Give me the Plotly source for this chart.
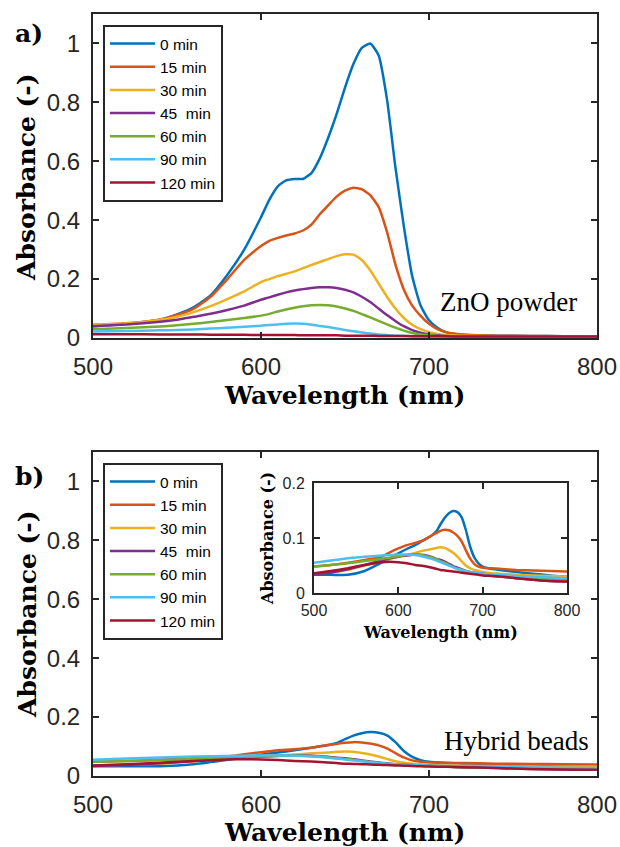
import plotly.graph_objects as go

# ---------------- data ----------------
labels = ["0 min", "15 min", "30 min", "45  min", "60 min", "90 min", "120 min"]
colors = ["#0072BD", "#D95319", "#EDB120", "#7E2F8E", "#77AC30", "#4DBEEE", "#A2142F"]

# Panel a) ZnO powder
wl_a = [500, 520, 540, 550, 560, 570, 580, 590, 600, 605, 610, 615, 620, 625, 630, 635, 640, 645,
        650, 655, 660, 665, 670, 675, 680, 685, 690, 695, 700, 705, 710, 720, 740, 760, 780, 800]
a_0 = [.040, .048, .062, .080, .105, .145, .215, .300, .410, .470, .515, .535, .540, .540, .560, .610, .680, .760,
       .850, .930, .985, 1.000, .960, .810, .580, .380, .210, .110, .060, .035, .020, .011, .008, .007, .006, .005]
a_15 = [.045, .050, .063, .078, .100, .140, .200, .265, .312, .330, .340, .348, .355, .365, .385, .420, .450, .480,
        .500, .510, .505, .485, .445, .360, .250, .165, .110, .075, .048, .030, .020, .012, .008, .007, .006, .005]
a_30 = [.045, .049, .062, .072, .088, .108, .132, .158, .190, .200, .210, .218, .226, .237, .248, .258, .268, .278,
        .284, .283, .265, .230, .185, .140, .100, .068, .045, .030, .020, .014, .010, .008, .006, .006, .005, .005]
a_45 = [.040, .046, .055, .062, .072, .082, .095, .110, .130, .138, .147, .155, .161, .166, .170, .172, .172, .170,
        .164, .155, .140, .122, .100, .078, .058, .040, .027, .018, .012, .009, .007, .006, .005, .005, .004, .004]
a_60 = [.030, .034, .039, .043, .048, .054, .061, .068, .076, .082, .090, .097, .103, .108, .111, .112, .111, .107,
        .100, .092, .081, .070, .058, .046, .035, .025, .017, .012, .009, .007, .006, .005, .005, .004, .004, .004]
a_90 = [.022, .024, .026, .027, .029, .032, .035, .038, .042, .044, .046, .048, .049, .048, .045, .041, .037, .032,
        .027, .023, .019, .015, .012, .010, .008, .007, .006, .006, .005, .005, .005, .004, .004, .004, .004, .004]
a_120 = [.013, .013, .012, .012, .012, .011, .011, .011, .010, .010, .010, .010, .010, .009, .009, .009, .009, .009,
         .008, .008, .008, .008, .007, .007, .007, .007, .006, .006, .006, .006, .006, .005, .005, .005, .005, .005]

# Panel b) Hybrid beads (also shown in inset)
wl_b = [500, 520, 540, 560, 580, 590, 600, 610, 620, 630, 640, 645, 650, 655, 660, 665, 670, 675, 680,
        685, 690, 695, 700, 710, 720, 740, 760, 780, 800]
b_0 = [.033, .033, .033, .040, .055, .063, .072, .080, .087, .096, .105, .112, .125, .137, .145, .149, .147, .138, .115,
       .085, .065, .054, .048, .044, .042, .038, .035, .032, .030]
b_15 = [.048, .051, .055, .060, .066, .074, .081, .087, .091, .096, .105, .109, .113, .115, .114, .110, .104, .094, .078,
        .063, .053, .048, .046, .045, .044, .042, .041, .040, .039]
b_30 = [.036, .038, .042, .050, .058, .062, .066, .069, .073, .077, .080, .082, .083, .082, .078, .073, .066, .058, .050,
        .045, .042, .040, .038, .036, .035, .033, .032, .031, .030]
b_45 = [.034, .037, .043, .051, .059, .063, .066, .068, .070, .069, .065, .062, .060, .057, .053, .049, .046, .043, .040,
        .038, .037, .036, .035, .032, .030, .027, .024, .022, .021]
b_60 = [.048, .051, .054, .058, .062, .064, .067, .069, .070, .068, .064, .061, .058, .055, .051, .047, .044, .041, .039,
        .037, .036, .035, .034, .032, .030, .028, .026, .025, .024]
b_90 = [.055, .059, .063, .066, .068, .069, .070, .070, .069, .066, .062, .059, .056, .053, .050, .047, .044, .042, .040,
        .038, .037, .036, .035, .034, .033, .031, .029, .028, .027]
b_120 = [.036, .040, .045, .051, .056, .057, .056, .054, .051, .049, .046, .044, .042, .041, .040, .039, .038, .037, .036,
         .035, .034, .033, .032, .031, .030, .027, .024, .022, .021]

series_a = [a_0, a_15, a_30, a_45, a_60, a_90, a_120]
series_b = [b_0, b_15, b_30, b_45, b_60, b_90, b_120]

x_ticks = [500, 600, 700, 800]
y_ticks = [0, 0.2, 0.4, 0.6, 0.8, 1]
y_ticklabels = ["0", "0.2", "0.4", "0.6", "0.8", "1"]
inset_y_ticks = [0, 0.1, 0.2]
inset_y_ticklabels = ["0", "0.1", "0.2"]

# ---------------- figure ----------------
W, H = 620, 847
fig = go.Figure()

line_kw = dict(width=2.5, shape="spline", smoothing=0.5)
for lab, col, ys in zip(labels, colors, series_a):
    fig.add_trace(go.Scatter(x=wl_a, y=ys, name=lab, mode="lines", line=dict(color=col, **line_kw),
                             xaxis="x", yaxis="y", legend="legend"))
for lab, col, ys in zip(labels, colors, series_b):
    fig.add_trace(go.Scatter(x=wl_b, y=ys, name=lab, mode="lines", line=dict(color=col, **line_kw),
                             xaxis="x2", yaxis="y2", legend="legend2"))
for lab, col, ys in zip(labels, colors, series_b):
    fig.add_trace(go.Scatter(x=wl_b, y=ys, name=lab, mode="lines", line=dict(color=col, **line_kw),
                             xaxis="x3", yaxis="y3", showlegend=False))

AX = "#262626"
tickfont = dict(family="Liberation Sans, Arial", size=24, color=AX)
inset_tickfont = dict(family="Liberation Sans, Arial", size=16, color=AX)


def px_x(p):
    return p / W


def px_y(p):
    return 1 - p / H


common = dict(showgrid=False, zeroline=False, showline=True, linecolor=AX, linewidth=2,
              mirror="ticks", ticks="inside", ticklen=6, tickwidth=2, tickcolor=AX, automargin=False)

legend_common = dict(xanchor="left", yanchor="top", bgcolor="white", bordercolor=AX, borderwidth=2,
                     font=dict(family="Liberation Sans, Arial", size=15.5, color="black"),
                     itemwidth=45, tracegroupgap=0)

fig.update_layout(
    width=W, height=H, margin=dict(l=0, r=0, t=0, b=0, pad=0, autoexpand=False),
    paper_bgcolor="white", plot_bgcolor="white", showlegend=True,
    xaxis=dict(domain=[px_x(93), px_x(597)], range=[500, 800], tickvals=x_ticks, anchor="y",
               tickfont=tickfont, ticklabelstandoff=6, **common),
    yaxis=dict(domain=[px_y(338), px_y(14)], range=[0, 1.1], tickvals=y_ticks, ticktext=y_ticklabels,
               anchor="x", tickfont=tickfont, ticklabelstandoff=6, **common),
    xaxis2=dict(domain=[px_x(93), px_x(597)], range=[500, 800], tickvals=x_ticks, anchor="y2",
                tickfont=tickfont, ticklabelstandoff=6, **common),
    yaxis2=dict(domain=[px_y(776), px_y(452)], range=[0, 1.1], tickvals=y_ticks, ticktext=y_ticklabels,
                anchor="x2", tickfont=tickfont, ticklabelstandoff=6, **common),
    xaxis3=dict(domain=[px_x(314), px_x(567)], range=[500, 800], tickvals=x_ticks, anchor="y3",
                tickfont=inset_tickfont, ticklabelstandoff=2, **common),
    yaxis3=dict(domain=[px_y(593), px_y(483)], range=[0, 0.2], tickvals=inset_y_ticks,
                ticktext=inset_y_ticklabels, anchor="x3", tickfont=inset_tickfont, ticklabelstandoff=4, **common),
    legend=dict(x=px_x(103), y=px_y(25), **legend_common),
    legend2=dict(x=px_x(103), y=px_y(463), **legend_common),
)

bold_serif = dict(family="DejaVu Serif", size=25, color="black")
inset_bold = dict(family="DejaVu Serif", size=16, color="black")
plain_serif = dict(family="Liberation Serif, Times New Roman", size=27, color="black")

ann = [
    dict(text="<b>Wavelength (nm)</b>", x=px_x(345), y=px_y(395), font=bold_serif),
    dict(text="<b>Wavelength (nm)</b>", x=px_x(345), y=px_y(832), font=bold_serif),
    dict(text="<b>Absorbance (-)</b>", x=px_x(27), y=px_y(177), font=bold_serif, textangle=-90),
    dict(text="<b>Absorbance (-)</b>", x=px_x(27), y=px_y(614), font=bold_serif, textangle=-90),
    dict(text="<b>Wavelength (nm)</b>", x=px_x(440), y=px_y(632), font=inset_bold),
    dict(text="<b>Absorbance (-)</b>", x=px_x(267), y=px_y(539), font=inset_bold, textangle=-90),
    dict(text="<b>a)</b>", x=px_x(29), y=px_y(34), font=bold_serif),
    dict(text="<b>b)</b>", x=px_x(29), y=px_y(476), font=bold_serif),
    dict(text="ZnO powder", x=px_x(579), y=px_y(302), font=plain_serif, xanchor="right"),
    dict(text="Hybrid beads", x=px_x(591), y=px_y(741), font=plain_serif, xanchor="right"),
]
for a in ann:
    a.setdefault("xanchor", "center")
    fig.add_annotation(xref="paper", yref="paper", yanchor="middle", showarrow=False, **a)

fig.write_html("out.html")
